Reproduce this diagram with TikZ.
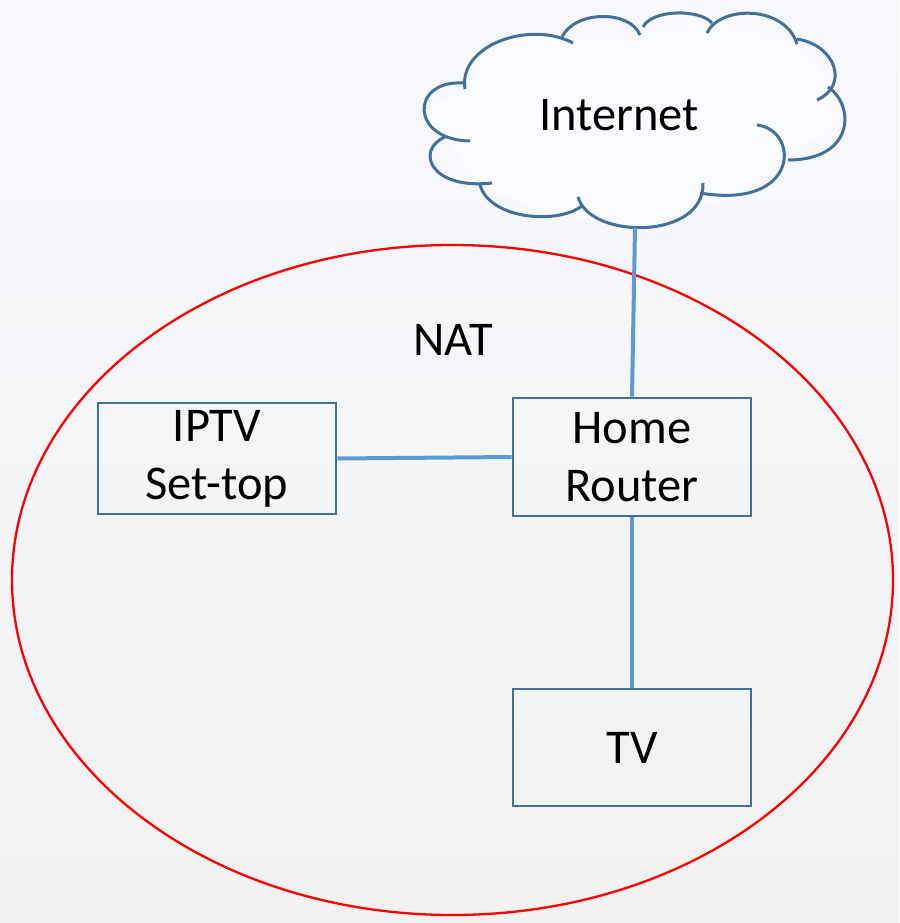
\documentclass[tikz,border=0pt]{standalone}
\usepackage{fontspec}
\setmainfont{Carlito}
\definecolor{boxblue}{HTML}{41719C}
\definecolor{linkblue}{HTML}{5B9BD5}
\definecolor{bgtop}{HTML}{F7F9FD}
\definecolor{bgbot}{HTML}{F2F2F2}
\begin{document}
\begin{tikzpicture}[x=1pt,y=-1pt,
  devbox/.style={draw=boxblue,line width=2.6pt,minimum width=238pt,inner sep=0pt,align=center,
    font=\fontsize{48.5}{58}\selectfont},
  lbl/.style={inner sep=0pt,font=\fontsize{48.5}{58}\selectfont},
  link/.style={draw=linkblue,line width=4pt},
  lobe/.style={draw=boxblue,line width=3pt}]
\useasboundingbox (0,0) rectangle (899,923);
\shade[top color=bgtop,bottom color=bgbot] (0,0) rectangle (899,923);
% NAT ellipse
\draw[red,line width=2.3pt] (452.5,580) ellipse [x radius=440.5,y radius=335];
\node[lbl] (nat) at (453,340) {NAT};
% cloud
\fill[white!40!bgtop] (465,89) .. controls (458,45) and (530,20) .. (573,43)
  -- (640,35) -- (712,23) -- (797,44) -- (830,80) -- (843,115) -- (788,160) -- (733,198)
  -- (640,227) -- (543,213) -- (480,185) -- (445,137) -- (424,113) -- cycle;
\draw[lobe] (465,89) .. controls (458,45) and (530,20) .. (573,43);
\draw[lobe] (562,37) .. controls (575,10) and (630,10) .. (640,35);
\draw[lobe] (643,27) .. controls (652,9) and (700,9) .. (712,23);
\draw[lobe] (707,33) .. controls (720,5) and (785,5) .. (797,44);
\draw[lobe] (797,39) .. controls (835,45) and (850,85) .. (817,100);
\draw[lobe] (828,87) .. controls (855,105) and (855,160) .. (788,160);
\draw[lobe] (757,125) .. controls (800,130) and (800,210) .. (700,193);
\draw[lobe] (703,183) .. controls (705,240) and (590,240) .. (578,197);
\draw[lobe] (583,205) .. controls (560,225) and (490,220) .. (480,185);
\draw[lobe] (492,183) .. controls (430,190) and (415,150) .. (445,137);
\draw[lobe] (470,141) .. controls (410,140) and (410,80) .. (463,83);
\node[lbl] (internet) at (619,115) {Internet};
\coordinate (cloudbot) at (635,228);
% devices
\node[devbox,minimum height=111pt] (iptv) at (217,458.5) {IPTV\\Set-top};
\node[devbox,minimum height=118pt] (router) at (632,457) {Home\\Router};
\node[devbox,minimum height=117pt] (tv) at (632,747.5) {TV};
% links
\draw[link] (iptv.east) -- (router.west);
\draw[link] (router.north) -- (cloudbot);
\draw[link] (router.south) -- (tv.north);
\end{tikzpicture}
\end{document}
